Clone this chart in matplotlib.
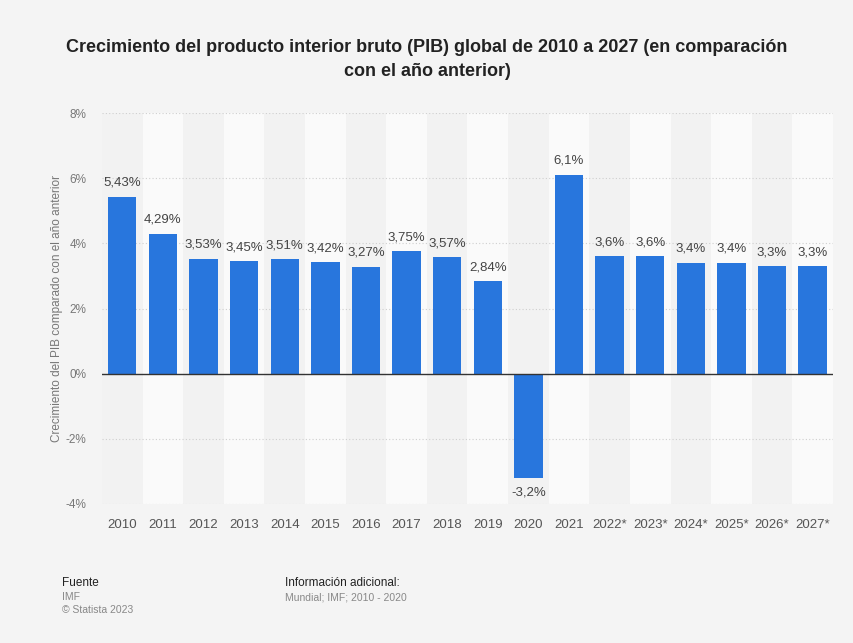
import matplotlib.pyplot as plt
import numpy as np

YEARS = ["2010", "2011", "2012", "2013", "2014", "2015", "2016", "2017", "2018",
         "2019", "2020", "2021", "2022*", "2023*", "2024*", "2025*", "2026*", "2027*"]
GROWTH = [5.43, 4.29, 3.53, 3.45, 3.51, 3.42, 3.27, 3.75, 3.57,
          2.84, -3.2, 6.1, 3.6, 3.6, 3.4, 3.4, 3.3, 3.3]
LABELS = ["5,43%", "4,29%", "3,53%", "3,45%", "3,51%", "3,42%", "3,27%", "3,75%", "3,57%",
          "2,84%", "-3,2%", "6,1%", "3,6%", "3,6%", "3,4%", "3,4%", "3,3%", "3,3%"]
YTICKS = [-4, -2, 0, 2, 4, 6, 8]

plt.rcParams["font.family"] = ["Liberation Sans", "DejaVu Sans"]

BG = "#f4f4f4"
BAR = "#2876dd"

fig = plt.figure(figsize=(8.54, 6.43), dpi=100, facecolor=BG)
ax = fig.add_axes([0.1194, 0.2162, 0.856, 0.608])
ax.set_facecolor(BG)

x = np.arange(len(YEARS))
for i in x:
    ax.axvspan(i - 0.5, i + 0.5, color="#f2f2f2" if i % 2 == 0 else "#fafafa", zorder=0, lw=0)

for t in YTICKS:
    if t != 0:
        ax.axhline(t, color="#cfcfcf", lw=0.8, ls=(0, (1, 2)), zorder=1)
ax.axhline(0, color="#333333", lw=1.0, zorder=3)

ax.bar(x, GROWTH, width=0.7, color=BAR, zorder=2)
for xi, v, lab in zip(x, GROWTH, LABELS):
    if v >= 0:
        ax.text(xi, v + 0.25, lab, ha="center", va="bottom", fontsize=9.5, color="#444444")
    else:
        ax.text(xi, v - 0.25, lab, ha="center", va="top", fontsize=9.5, color="#444444")

ax.set_xlim(-0.5, len(YEARS) - 0.5)
ax.set_ylim(-4, 8)
ax.set_yticks(YTICKS)
ax.set_yticklabels([f"{t}%" for t in YTICKS], fontsize=8.5, color="#777777")
ax.set_xticks(x)
ax.set_xticklabels(YEARS, fontsize=9.5, color="#555555")
ax.tick_params(length=0)
ax.tick_params(axis="y", pad=11)
ax.tick_params(axis="x", pad=11)
for s in ax.spines.values():
    s.set_visible(False)
ax.set_ylabel("Crecimiento del PIB comparado con el año anterior", fontsize=8.5, color="#777777", labelpad=2)

fig.text(0.5, 0.9075, "Crecimiento del producto interior bruto (PIB) global de 2010 a 2027 (en comparación\ncon el año anterior)",
         ha="center", va="center", fontsize=13, fontweight="bold", color="#222222", linespacing=1.55)

fig.text(62 / 854, 1 - 583 / 643, "Fuente", fontsize=8.5, color="#222222", va="center")
fig.text(62 / 854, 1 - 597 / 643, "IMF", fontsize=7.5, color="#888888", va="center")
fig.text(62 / 854, 1 - 610 / 643, "© Statista 2023", fontsize=7.5, color="#888888", va="center")
fig.text(285 / 854, 1 - 583 / 643, "Información adicional:", fontsize=8.5, color="#222222", va="center")
fig.text(285 / 854, 1 - 598 / 643, "Mundial; IMF; 2010 - 2020", fontsize=7.5, color="#888888", va="center")

fig.savefig("out.png", dpi=100, facecolor=BG)
